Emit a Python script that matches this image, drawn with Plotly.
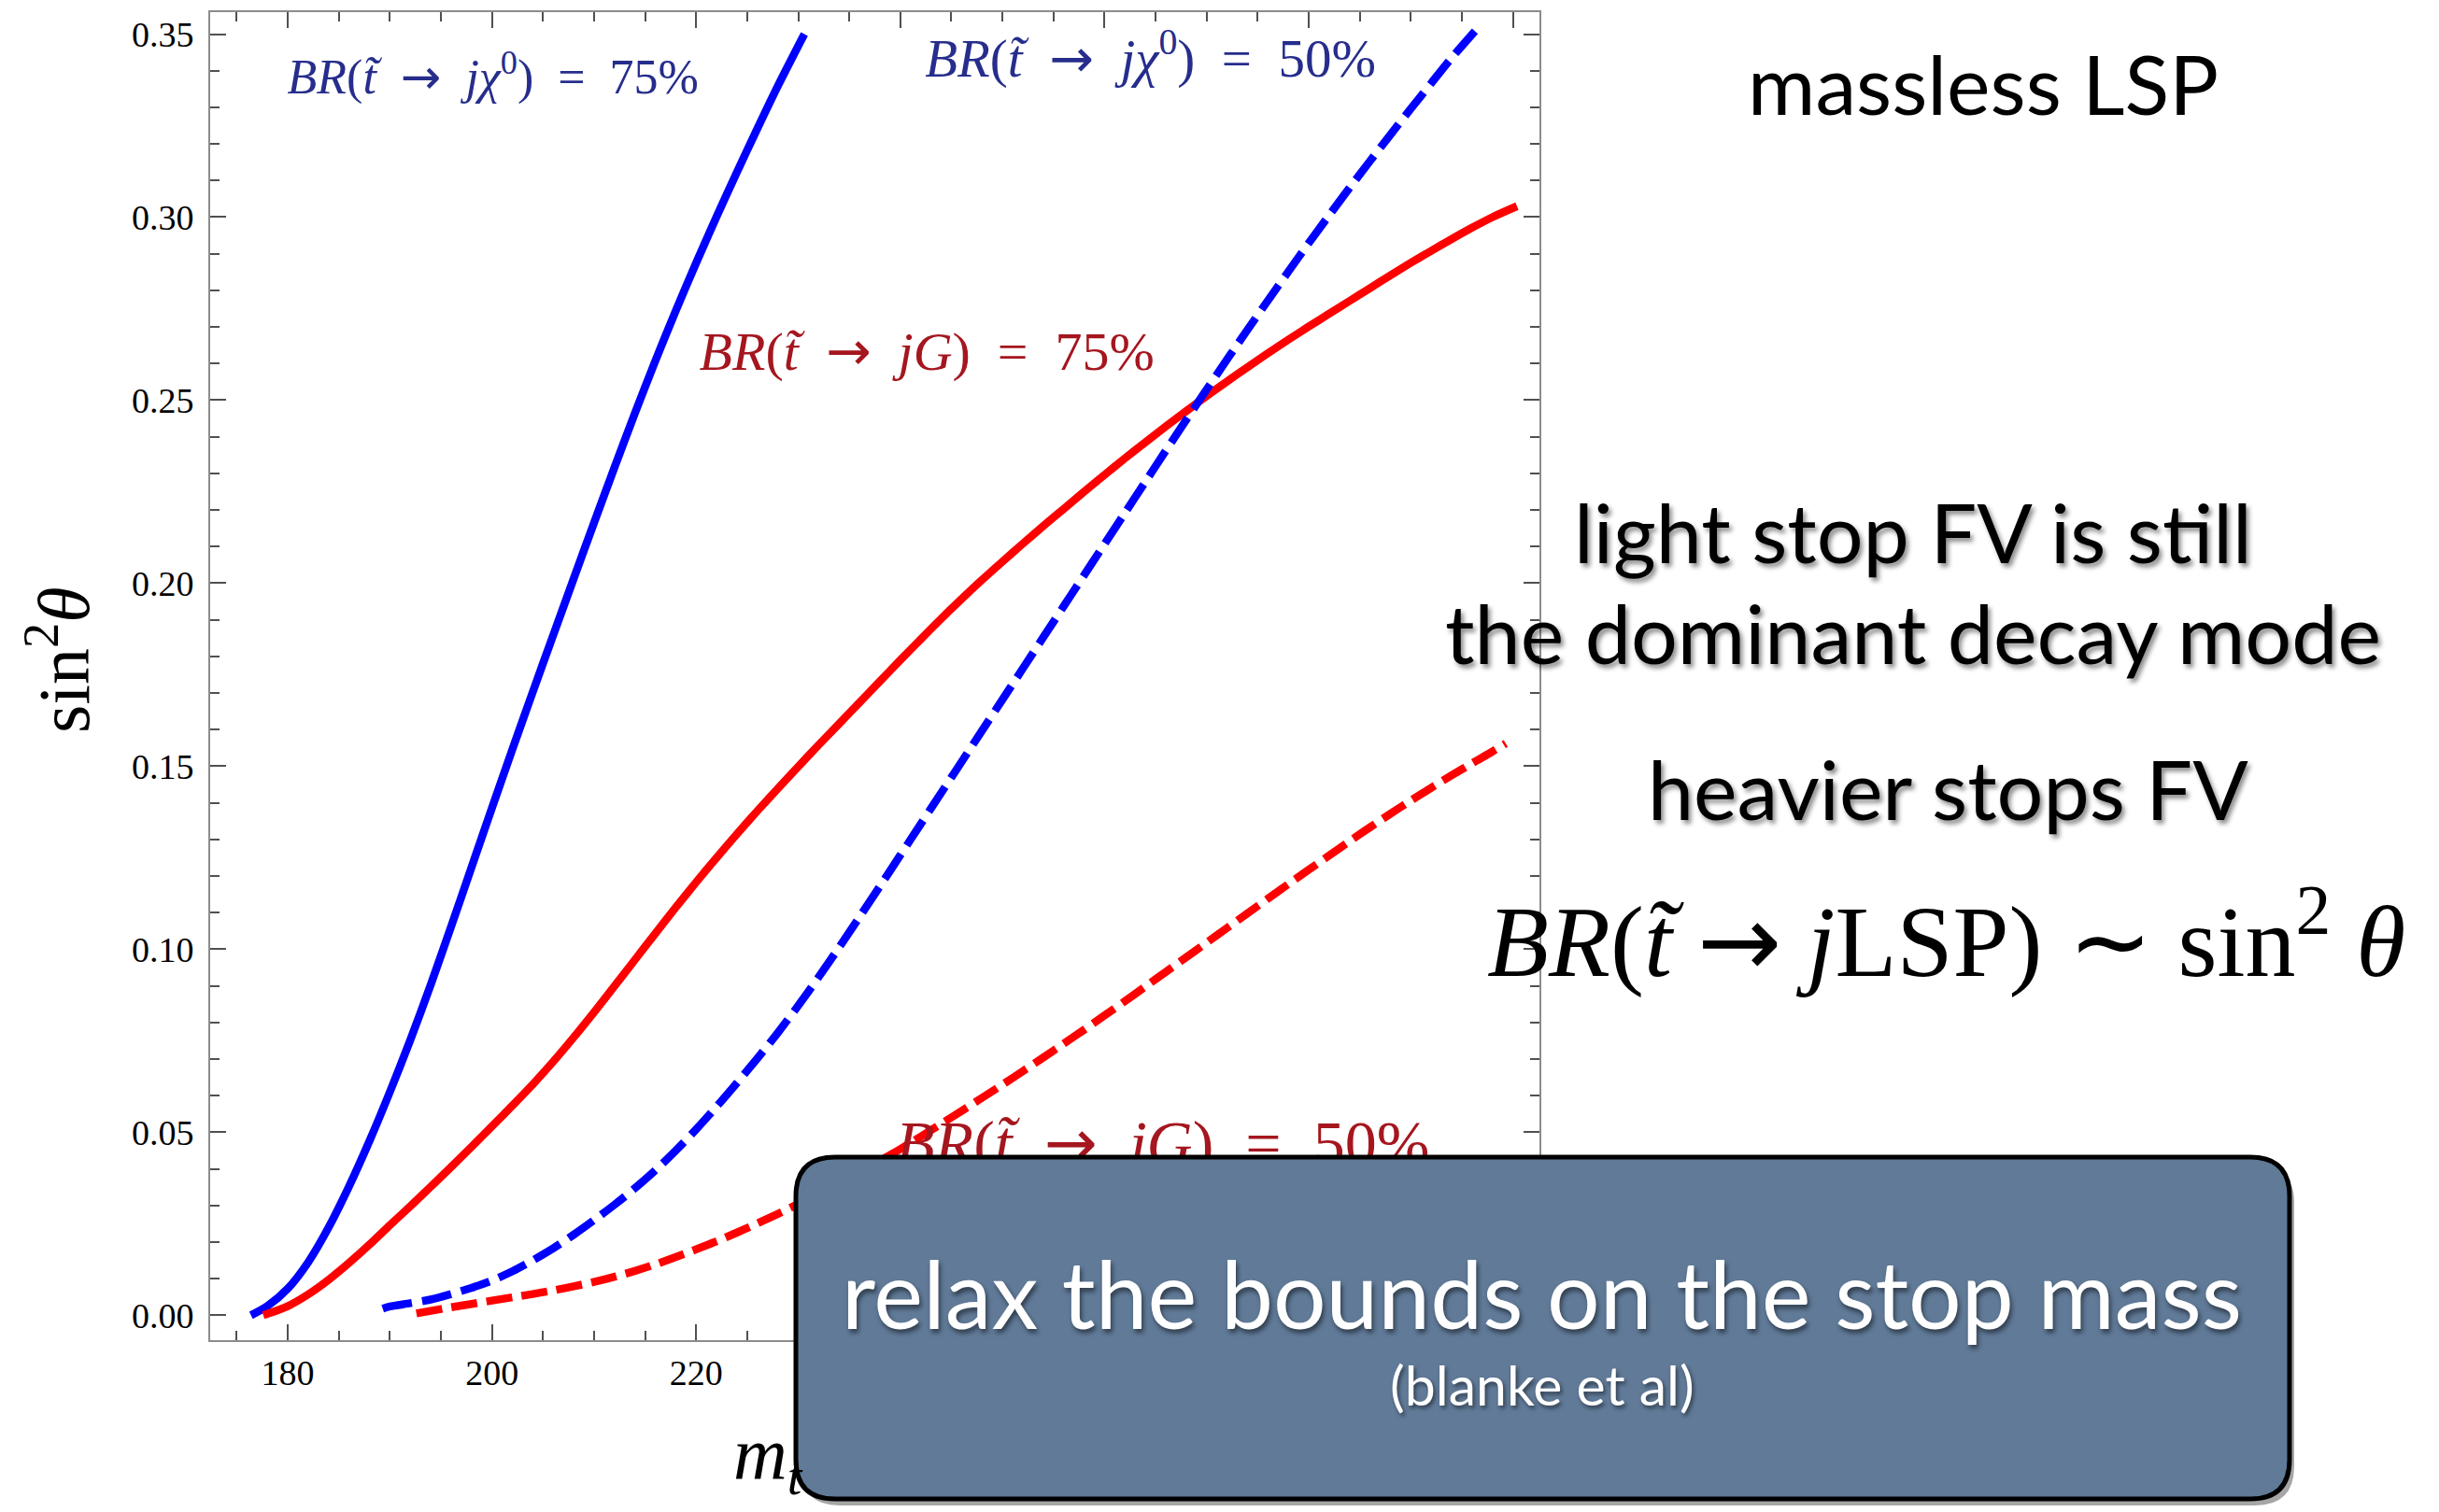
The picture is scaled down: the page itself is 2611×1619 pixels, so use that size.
import plotly.graph_objects as go

# ---------------- data ----------------
chi75_x = [176.4, 178, 180, 182, 184, 186, 188, 190, 192, 194, 196, 198, 200, 202, 204, 206, 208,
           210, 212, 214, 216, 218, 220, 222, 224, 226, 228, 230.6]
chi75_y = [0.0000, 0.0025, 0.0073, 0.0145, 0.0240, 0.0352, 0.0476, 0.0610, 0.0752, 0.0903, 0.1062,
           0.1224, 0.1386, 0.1546, 0.1703, 0.1858, 0.2012, 0.2165, 0.2316, 0.2464, 0.2607, 0.2744,
           0.2875, 0.3001, 0.3123, 0.3242, 0.3358, 0.3500]

g75_x = [177.6, 180, 182, 184, 186, 188, 190, 192, 194, 196, 198, 200, 202, 204, 206, 208, 210, 212,
         214, 216, 218, 220, 222, 224, 226, 228, 230, 232, 234, 236, 238, 240, 242, 244, 246, 248,
         250, 252, 254, 256, 258, 260, 262, 264, 266, 268, 270, 272, 274, 276, 278, 280, 282, 284,
         286, 288, 290, 292, 294, 296, 298, 300.4]
g75_y = [0.0000, 0.0025, 0.0057, 0.0097, 0.0143, 0.0193, 0.0246, 0.0298, 0.0351, 0.0405, 0.0460,
         0.0516, 0.0573, 0.0631, 0.0693, 0.0759, 0.0828, 0.0899, 0.0971, 0.1043, 0.1114, 0.1183,
         0.1250, 0.1315, 0.1378, 0.1439, 0.1499, 0.1558, 0.1616, 0.1674, 0.1732, 0.1790, 0.1847,
         0.1903, 0.1957, 0.2009, 0.2059, 0.2108, 0.2156, 0.2203, 0.2250, 0.2296, 0.2341, 0.2385,
         0.2428, 0.2470, 0.2511, 0.2551, 0.2590, 0.2628, 0.2665, 0.2701, 0.2736, 0.2771, 0.2806,
         0.2841, 0.2875, 0.2908, 0.2940, 0.2971, 0.3000, 0.3030]

chi50_x = [189.3, 190, 192, 194, 196, 198, 200, 202, 204, 206, 208, 210, 212, 214, 216, 218, 220,
           222, 224, 226, 228, 230, 232, 234, 236, 238, 240, 242, 244, 246, 248, 250, 252, 254, 256,
           258, 260, 262, 264, 266, 268, 270, 272, 274, 276, 278, 280, 282, 284, 286, 288, 290, 292,
           294, 296.5]
chi50_y = [0.0018, 0.0024, 0.0033, 0.0043, 0.0058, 0.0075, 0.0095, 0.0120, 0.0150, 0.0183, 0.0220,
           0.0260, 0.0302, 0.0347, 0.0396, 0.0450, 0.0508, 0.0570, 0.0635, 0.0702, 0.0772, 0.0846,
           0.0924, 0.1005, 0.1088, 0.1172, 0.1257, 0.1342, 0.1427, 0.1512, 0.1597, 0.1682, 0.1767,
           0.1852, 0.1937, 0.2022, 0.2107, 0.2192, 0.2277, 0.2362, 0.2446, 0.2529, 0.2611, 0.2692,
           0.2772, 0.2851, 0.2929, 0.3005, 0.3080, 0.3153, 0.3225, 0.3296, 0.3366, 0.3435, 0.3515]

g50_x = [192.6, 194, 196, 198, 200, 202, 204, 206, 208, 210, 212, 214, 216, 218, 220, 222, 224, 226,
         228, 230, 232, 234, 236, 238, 240, 242, 244, 246, 248, 250, 252, 254, 256, 258, 260, 262,
         264, 266, 268, 270, 272, 274, 276, 278, 280, 282, 284, 286, 288, 290, 292, 294, 296, 298,
         299.3]
g50_y = [0.0005, 0.0012, 0.0022, 0.0031, 0.0040, 0.0049, 0.0058, 0.0068, 0.0079, 0.0091, 0.0105,
         0.0121, 0.0139, 0.0159, 0.0180, 0.0202, 0.0226, 0.0251, 0.0277, 0.0304, 0.0332, 0.0361,
         0.0391, 0.0422, 0.0454, 0.0488, 0.0523, 0.0558, 0.0594, 0.0630, 0.0667, 0.0704, 0.0742,
         0.0780, 0.0819, 0.0858, 0.0898, 0.0938, 0.0978, 0.1018, 0.1058, 0.1098, 0.1138, 0.1178,
         0.1217, 0.1256, 0.1295, 0.1333, 0.1370, 0.1406, 0.1441, 0.1475, 0.1508, 0.1540, 0.1562]

SP = "\u2002"
ARROW = "<span style=\"font-family:'DejaVu Sans'\">\u2192</span>"
curve_labels = [
    f"<i>BR</i>(<i>t\u0303</i>{SP}{ARROW}{SP}<i>j\u03c7</i><sup>0</sup>){SP}={SP}75%",
    f"<i>BR</i>(<i>t\u0303</i>{SP}{ARROW}{SP}<i>j\u03c7</i><sup>0</sup>){SP}={SP}50%",
    f"<i>BR</i>(<i>t\u0303</i>{SP}{ARROW}{SP}<i>jG</i>){SP}={SP}75%",
    f"<i>BR</i>(<i>t\u0303</i>{SP}{ARROW}{SP}<i>jG</i>){SP}={SP}50%",
]
label_x = [200.1, 264.5, 242.6, 265.7]
label_y = [0.337, 0.342, 0.262, 0.0455]

x_tick_vals = [180, 200, 220, 240, 260, 280, 300]
y_tick_vals = [0.00, 0.05, 0.10, 0.15, 0.20, 0.25, 0.30, 0.35]

# ---------------- layout geometry (pixels) ----------------
W, H = 2611, 1619
PL, PR, PT, PB = 225, 1648, 13, 1435


def pxx(x):
    return (x - PL) / (PR - PL)


def pxy(y):
    return (PB - y) / (PB - PT)


def rounded_path(x0, y0, x1, y1, r):
    pts = [("M", [(x0 + r, y0)]), ("L", [(x1 - r, y0)]), ("Q", [(x1, y0), (x1, y0 + r)]),
           ("L", [(x1, y1 - r)]), ("Q", [(x1, y1), (x1 - r, y1)]), ("L", [(x0 + r, y1)]),
           ("Q", [(x0, y1), (x0, y1 - r)]), ("L", [(x0, y0 + r)]), ("Q", [(x0, y0), (x0 + r, y0)])]
    s = ""
    for cmd, ps in pts:
        s += cmd + " " + " ".join(f"{pxx(a):.5f},{pxy(b):.5f}" for a, b in ps) + " "
    return s + "Z"


fig = go.Figure()

BLUE = "#0000ff"
RED = "#ff0000"
LW = 8.5

fig.add_trace(go.Scatter(x=chi75_x, y=chi75_y, mode="lines",
                         line=dict(color=BLUE, width=LW, shape="spline", smoothing=0.8),
                         hoverinfo="skip"))
fig.add_trace(go.Scatter(x=g75_x, y=g75_y, mode="lines",
                         line=dict(color=RED, width=LW, shape="spline", smoothing=0.8),
                         hoverinfo="skip"))
fig.add_trace(go.Scatter(x=chi50_x, y=chi50_y, mode="lines",
                         line=dict(color=BLUE, width=LW, dash="32px,11px", shape="spline", smoothing=0.8),
                         hoverinfo="skip"))
fig.add_trace(go.Scatter(x=g50_x, y=g50_y, mode="lines",
                         line=dict(color=RED, width=LW, dash="28px,10px", shape="spline", smoothing=0.8),
                         hoverinfo="skip"))

LBL_BLUE = "#262d8c"
LBL_RED = "#a5161f"
fig.add_trace(go.Scatter(
    x=label_x, y=label_y, mode="text", text=curve_labels, textposition="middle center",
    textfont=dict(family="Liberation Serif", size=[52, 57, 58, 68],
                  color=[LBL_BLUE, LBL_BLUE, LBL_RED, LBL_RED]),
    cliponaxis=False, hoverinfo="skip"))

axis_common = dict(
    showgrid=False, zeroline=False, showline=True, linecolor="#8c8c8c", linewidth=2,
    mirror="ticks", ticks="inside", ticklen=17, tickwidth=2, tickcolor="#505050",
    tickfont=dict(family="Liberation Serif", size=38, color="black"),
)
fig.update_xaxes(range=[172.4, 302.6], tickvals=x_tick_vals,
                 minor=dict(ticks="inside", ticklen=10, tickwidth=2, tickcolor="#505050", dtick=5,
                            tick0=0, showgrid=False),
                 **axis_common)
fig.update_yaxes(range=[-0.0068, 0.356], tickvals=y_tick_vals, tickformat=".2f",
                 ticklabelstandoff=8,
                 minor=dict(ticks="inside", ticklen=10, tickwidth=2, tickcolor="#505050", dtick=0.01,
                            tick0=0, showgrid=False),
                 **axis_common)

# box with shadow
BX0, BY0, BX1, BY1, BR_ = 852, 1239, 2451, 1605, 42
fig.add_shape(type="path", xref="paper", yref="paper", layer="above",
              path=rounded_path(BX0 + 5, BY0 + 7, BX1 + 5, BY1 + 7, BR_),
              fillcolor="rgba(0,0,0,0.35)", line=dict(width=0))
fig.add_shape(type="path", xref="paper", yref="paper", layer="above",
              path=rounded_path(BX0, BY0, BX1, BY1, BR_),
              fillcolor="#607a98", line=dict(color="black", width=5))

SANS = "Lato"
SH = "3px 4px 5px rgba(0,0,0,0.45)"
annotations = [
    dict(text="massless LSP", x=pxx(2123), y=pxy(89), font=dict(family=SANS, size=88, color="black")),
    dict(text="light stop FV is still", x=pxx(2048), y=pxy(569),
         font=dict(family=SANS, size=88, color="black", shadow=SH)),
    dict(text="the dominant decay mode", x=pxx(2048), y=pxy(677),
         font=dict(family=SANS, size=88, color="black", shadow=SH)),
    dict(text="heavier stops FV", x=pxx(2085), y=pxy(844),
         font=dict(family=SANS, size=88, color="black", shadow=SH)),
    dict(text=f"<i>BR</i>(<i>t\u0303</i> {ARROW} <i>j</i>LSP) \u223c sin<sup>2</sup> <i>\u03b8</i>",
         x=pxx(2083), y=pxy(1001), font=dict(family="Liberation Serif", size=108, color="black")),
    dict(text="relax the bounds on the stop mass", x=pxx(1651), y=pxy(1384),
         font=dict(family=SANS, size=100, color="white", shadow="2px 4px 5px rgba(0,0,0,0.5)")),
    dict(text="(blanke et al)", x=pxx(1651), y=pxy(1482),
         font=dict(family=SANS, size=59, color="white", shadow="2px 3px 4px rgba(0,0,0,0.5)")),
    dict(text="sin<sup>2</sup><i>\u03b8</i>", x=pxx(62), y=pxy(707), textangle=-90,
         font=dict(family="Liberation Serif", size=78, color="black")),
]
for a in annotations:
    a.update(xref="paper", yref="paper", showarrow=False, xanchor="center", yanchor="middle")
    fig.add_annotation(**a)

# visible part of the x-axis title, left of the box
fig.add_annotation(text="<i>m</i><sub><i>t</i></sub>", xref="paper", yref="paper",
                   x=pxx(783), y=pxy(1562), xanchor="left", yanchor="middle", showarrow=False,
                   font=dict(family="Liberation Serif", size=80, color="black"))

fig.update_layout(width=W, height=H, margin=dict(l=PL, r=W - PR, t=PT, b=H - PB),
                  paper_bgcolor="white", plot_bgcolor="white", showlegend=False)

fig.write_html("out.html")
